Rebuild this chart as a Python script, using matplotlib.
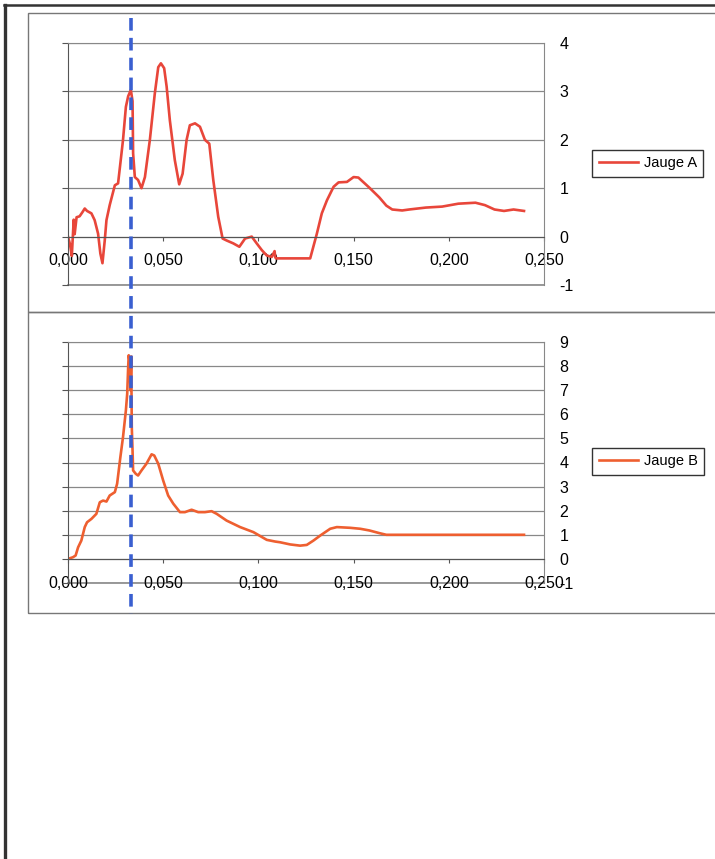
import matplotlib.pyplot as plt
from matplotlib.lines import Line2D
from matplotlib.patches import Rectangle

plt.rcParams['font.family'] = ['Liberation Sans', 'DejaVu Sans']
plt.rcParams['axes.unicode_minus'] = False

# Jauge A
t_a = [0.0, 0.0010, 0.0020, 0.0030, 0.0035, 0.0045, 0.0061, 0.0075, 0.0088, 0.0100,
       0.0123, 0.0140, 0.0158, 0.0170, 0.0181, 0.0193, 0.0202, 0.0219, 0.0246, 0.0263,
       0.0281, 0.0289, 0.0304, 0.0316, 0.0330, 0.0339, 0.0342, 0.0351, 0.0368, 0.0386,
       0.0404, 0.0430, 0.0456, 0.0474, 0.0488, 0.0505, 0.0518, 0.0535, 0.0561, 0.0584,
       0.0602, 0.0623, 0.0640, 0.0667, 0.0693, 0.0719, 0.0742, 0.0763, 0.0789, 0.0812,
       0.0833, 0.0868, 0.0900, 0.0930, 0.0965, 0.0991, 0.1018, 0.1044, 0.1070, 0.1085,
       0.1088, 0.1092, 0.1132, 0.1219, 0.1272, 0.1307, 0.1333, 0.1360, 0.1395, 0.1421,
       0.1465, 0.1500, 0.1525, 0.1583, 0.1635, 0.1672, 0.1703, 0.1755, 0.1792, 0.1880,
       0.1965, 0.2050, 0.2140, 0.2190, 0.2240, 0.2290, 0.2340, 0.2395]
jauge_a = [0.0, -0.15, -0.40, 0.35, 0.05, 0.40, 0.42, 0.50, 0.58, 0.53,
           0.48, 0.34, 0.06, -0.35, -0.55, -0.08, 0.34, 0.65, 1.06, 1.10,
           1.72, 2.00, 2.68, 2.90, 3.03, 2.80, 1.72, 1.23, 1.17, 1.00,
           1.23, 2.00, 2.96, 3.50, 3.58, 3.48, 3.10, 2.40, 1.58, 1.08,
           1.30, 2.00, 2.30, 2.34, 2.27, 2.00, 1.92, 1.17, 0.41, -0.04,
           -0.08, -0.14, -0.21, -0.04, 0.00, -0.14, -0.28, -0.39, -0.42, -0.30,
           -0.42, -0.45, -0.45, -0.45, -0.45, 0.06, 0.48, 0.75, 1.03, 1.12,
           1.13, 1.23, 1.22, 1.01, 0.81, 0.64, 0.56, 0.54, 0.56, 0.60,
           0.62, 0.68, 0.70, 0.65, 0.56, 0.53, 0.56, 0.53]

# Jauge B
t_b = [0.0, 0.0026, 0.0040, 0.0053, 0.0070, 0.0088, 0.0100, 0.0123, 0.0149, 0.0167,
       0.0184, 0.0202, 0.0219, 0.0246, 0.0258, 0.0275, 0.0289, 0.0304, 0.0311, 0.0316,
       0.0319, 0.0325, 0.0328, 0.0332, 0.0335, 0.0339, 0.0342, 0.0356, 0.0368, 0.0386,
       0.0412, 0.0439, 0.0453, 0.0474, 0.0500, 0.0526, 0.0553, 0.0588, 0.0614, 0.0649,
       0.0684, 0.0719, 0.0754, 0.0781, 0.0833, 0.0904, 0.0974, 0.1044, 0.1088, 0.1114,
       0.1167, 0.1219, 0.1254, 0.1289, 0.1325, 0.1377, 0.1412, 0.1482, 0.1535, 0.1583,
       0.1635, 0.1672, 0.2000, 0.2395]
jauge_b = [0.0, 0.07, 0.14, 0.48, 0.76, 1.32, 1.52, 1.66, 1.87, 2.35,
           2.42, 2.38, 2.63, 2.77, 3.12, 4.22, 5.06, 6.16, 6.86, 7.96,
           8.45, 8.10, 7.00, 8.40, 5.47, 4.50, 3.67, 3.53, 3.46, 3.67,
           3.95, 4.34, 4.29, 3.95, 3.25, 2.63, 2.29, 1.94, 1.94, 2.04,
           1.94, 1.94, 1.98, 1.87, 1.59, 1.32, 1.11, 0.79, 0.72, 0.69,
           0.60, 0.55, 0.58, 0.76, 0.97, 1.25, 1.32, 1.29, 1.25, 1.18,
           1.07, 1.00, 1.00, 1.00]

x_ticks = [0.0, 0.05, 0.10, 0.15, 0.20, 0.25]
x_labels = ['0,000', '0,050', '0,100', '0,150', '0,200', '0,250']
t_event = 0.0333

W, H = 715, 859
fig = plt.figure(figsize=(W / 100, H / 100), dpi=100)


def px_box(x0, y0, x1, y1):
    return [x0 / W, 1 - y1 / H, (x1 - x0) / W, (y1 - y0) / H]


# cadres
fig.add_artist(Rectangle((28 / W, 1 - 312 / H), 700 / W, 299 / H, transform=fig.transFigure,
                         fill=False, edgecolor='#777777', lw=1))
fig.add_artist(Rectangle((28 / W, 1 - 613 / H), 700 / W, 301 / H, transform=fig.transFigure,
                         fill=False, edgecolor='#777777', lw=1))
fig.add_artist(Line2D([4 / W, 1], [1 - 5 / H, 1 - 5 / H], transform=fig.transFigure,
                      color='#333333', lw=1.8))
fig.add_artist(Line2D([5 / W, 5 / W], [0, 1 - 5 / H], transform=fig.transFigure,
                      color='#333333', lw=2.4))

panels = [
    (px_box(68, 43, 544, 285), t_a, jauge_a, 'Jauge A', '#E8463A', (-1, 4), 163.5),
    (px_box(68, 342, 544, 583), t_b, jauge_b, 'Jauge B', '#EE5F30', (-1, 9), 461.5),
]

axes = []
for box, t, y, name, col, ylim, leg_y in panels:
    ax = fig.add_axes(box)
    ax.plot(t, y, color=col, lw=1.9, label=name)
    ax.set_xlim(0, 0.25)
    ax.set_ylim(*ylim)
    ax.set_xticks(x_ticks)
    ax.set_xticklabels(x_labels)
    ax.set_yticks(range(ylim[0], ylim[1] + 1))
    ax.grid(axis='y', color='#888888', lw=0.9)
    ax.axhline(ylim[0], color='#888888', lw=1.2, clip_on=False, zorder=0.5)
    ax.set_axisbelow(True)
    for s in ['top', 'right']:
        ax.spines[s].set_color('#888888')
    ax.spines['left'].set_color('#555555')
    ax.spines['bottom'].set_position(('data', 0))
    ax.spines['bottom'].set_color('#555555')
    ax.tick_params(axis='y', left=True, right=False, labelleft=False, labelright=True,
                   length=4, pad=7, labelsize=11.5, color='#555555')
    ax.tick_params(axis='x', direction='out', length=3, pad=9, labelsize=11.5, color='#555555')
    ax.legend(loc='center left', bbox_to_anchor=(592 / W, 1 - leg_y / H),
              bbox_transform=fig.transFigure, fancybox=False, framealpha=1,
              edgecolor='#333333', fontsize=10.5, handlelength=2.7, handletextpad=0.4,
              borderpad=0.45, borderaxespad=0)
    axes.append(ax)

# trait vertical pointillé
x_ev = (68 + t_event / 0.25 * 476) / W
fig.add_artist(Line2D([x_ev, x_ev], [1 - 18 / H, 1 - 614 / H], transform=fig.transFigure,
                      color='#3A5FD0', lw=2.6, dashes=(3.5, 2)))

fig.savefig('out.png', dpi=100, facecolor='white')
